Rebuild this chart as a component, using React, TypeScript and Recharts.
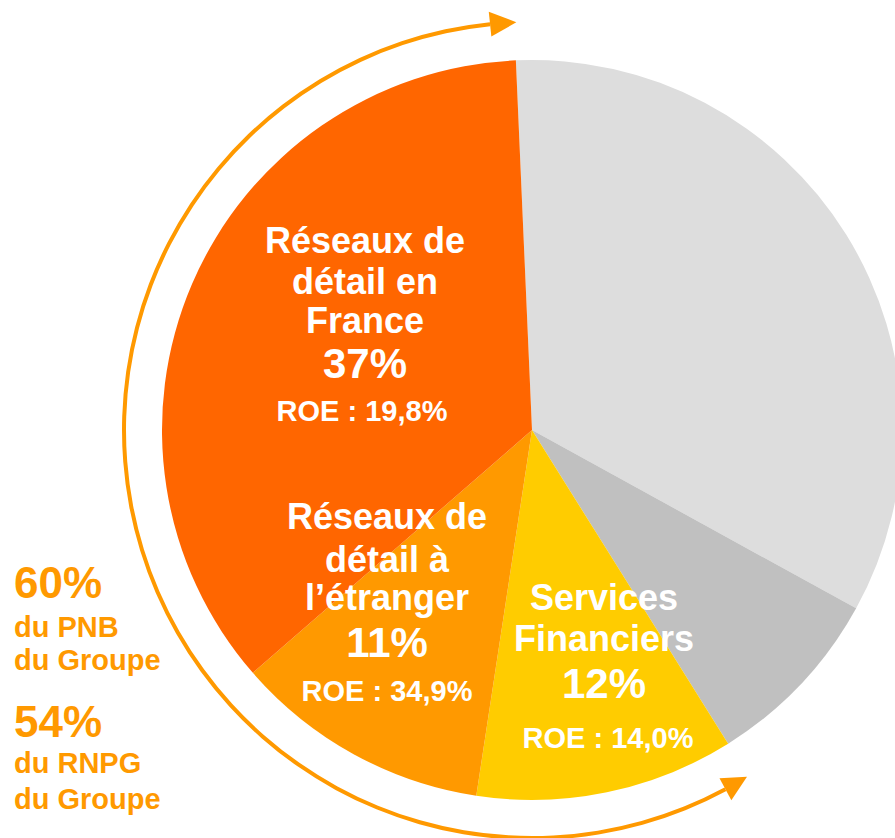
import React from 'react';
import { PieChart, Pie, Cell, Customized } from 'recharts';

// ---------- data ----------
const sliceNames = [
  'Autres métiers',
  'Autres',
  'Services Financiers',
  'Réseaux de détail à l’étranger',
  'Réseaux de détail en France',
];
const sliceShares = [33.7, 8.1, 11.3, 11.2, 35.7];
const nameLines: string[][] = [
  [],
  [],
  ['Services', 'Financiers'],
  ['Réseaux de', 'détail à', 'l’étranger'],
  ['Réseaux de', 'détail en', 'France'],
];
const pnbLabels = ['', '', '12%', '11%', '37%'];
const roeLabels = ['', '', 'ROE : 14,0%', 'ROE : 34,9%', 'ROE : 19,8%'];

const sideBig = ['60%', '54%'];
const sideSmall = [
  ['du PNB', 'du Groupe'],
  ['du RNPG', 'du Groupe'],
];

const arcData = [{ name: 'périmètre', value: 1 }];

// ---------- styles / layout ----------
const W = 895;
const H = 838;
const CX = 532;
const CY = 430;
const R = 370;
const ARC_R = 408;
const ARC_HALF = 2;
const ARC_START = 95.9;
const ARC_END = 298.3;
const PIE_START = 92.5;

const sliceColors = ['#DDDDDD', '#C0C0C0', '#FFCC00', '#FF9900', '#FF6600'];
const ORANGE = '#FF9900';
const FONT = '"Liberation Sans", Arial, Helvetica, sans-serif';

const NAME_SIZE = 36;
const PCT_SIZE = 42;
const ROE_SIZE = 29;

// per-slice label block: horizontal centre offset and line baselines relative to pie centre
const labelLayout: ({ dx: number; roeDx: number; ys: number[] } | null)[] = [
  null,
  null,
  { dx: 72, roeDx: 4, ys: [180, 221, 268.3, 318.3] },
  { dx: -145, roeDx: 0, ys: [99.3, 141.7, 180, 226.7, 270.7] },
  { dx: -167, roeDx: -3, ys: [-177.3, -136, -97.3, -51.7, -9.3] },
];

const sideLayout = [
  { big: 598.3, small: [637.3, 670] },
  { big: 736.7, small: [772.7, 809.3] },
];

const pieData = sliceNames.map((name, i) => ({ name, value: sliceShares[i] }));

const polar = (r: number, a: number): [number, number] => [
  CX + r * Math.cos((a * Math.PI) / 180),
  CY - r * Math.sin((a * Math.PI) / 180),
];

const renderLabel = (props: any) => {
  const index: number = props.index;
  const lay = labelLayout[index];
  if (!lay) return null;
  const cx = typeof props.cx === 'number' ? props.cx : CX;
  const cy = typeof props.cy === 'number' ? props.cy : CY;
  const lines = [
    ...nameLines[index].map((t) => ({ t, size: NAME_SIZE, off: 0 })),
    { t: pnbLabels[index], size: PCT_SIZE, off: 0 },
    { t: roeLabels[index], size: ROE_SIZE, off: lay.roeDx },
  ];
  return (
    <g key={`lbl-${index}`}>
      {lines.map((l, i) => (
        <text
          key={i}
          x={cx + lay.dx + l.off}
          y={cy + lay.ys[i]}
          textAnchor="middle"
          fill="#FFFFFF"
          fontFamily={FONT}
          fontWeight="bold"
          fontSize={l.size}
        >
          {l.t}
        </text>
      ))}
    </g>
  );
};

const Arrowheads = () => {
  const heads = [
    { base: ARC_START, tip: ARC_START - 3.7 },
    { base: ARC_END, tip: ARC_END + 3.5 },
  ];
  return (
    <g>
      {heads.map((h, i) => {
        const p1 = polar(ARC_R - 12.5, h.base);
        const p2 = polar(ARC_R + 12.5, h.base);
        const p3 = polar(ARC_R, h.tip);
        return (
          <polygon
            key={i}
            points={`${p1[0]},${p1[1]} ${p2[0]},${p2[1]} ${p3[0]},${p3[1]}`}
            fill={ORANGE}
          />
        );
      })}
    </g>
  );
};

const SideText = () => (
  <g>
    {sideBig.map((b, i) => (
      <g key={i}>
        <text x={14} y={sideLayout[i].big} fill={ORANGE} fontFamily={FONT} fontWeight="bold" fontSize={44}>
          {b}
        </text>
        {sideSmall[i].map((s, j) => (
          <text
            key={j}
            x={14}
            y={sideLayout[i].small[j]}
            fill={ORANGE}
            fontFamily={FONT}
            fontWeight="bold"
            fontSize={29}
          >
            {s}
          </text>
        ))}
      </g>
    ))}
  </g>
);

export default function App() {
  return (
    <div style={{ position: 'absolute', left: 0, top: 0, width: W, height: H, background: '#fff' }}>
      <PieChart width={W} height={H} margin={{ top: 0, right: 0, bottom: 0, left: 0 }}>
        <Pie
          data={pieData}
          dataKey="value"
          nameKey="name"
          cx={CX}
          cy={CY}
          outerRadius={R}
          innerRadius={0}
          startAngle={PIE_START}
          endAngle={PIE_START - 360}
          stroke="none"
          isAnimationActive={false}
          labelLine={false}
          label={renderLabel}
        >
          {pieData.map((d, i) => (
            <Cell key={d.name} fill={sliceColors[i]} stroke="none" />
          ))}
        </Pie>
        <Pie
          data={arcData}
          dataKey="value"
          cx={CX}
          cy={CY}
          innerRadius={ARC_R - ARC_HALF}
          outerRadius={ARC_R + ARC_HALF}
          startAngle={ARC_START}
          endAngle={ARC_END}
          fill={ORANGE}
          stroke="none"
          isAnimationActive={false}
          labelLine={false}
          label={false}
        />
        <Customized component={<Arrowheads />} />
        <Customized component={<SideText />} />
      </PieChart>
    </div>
  );
}
